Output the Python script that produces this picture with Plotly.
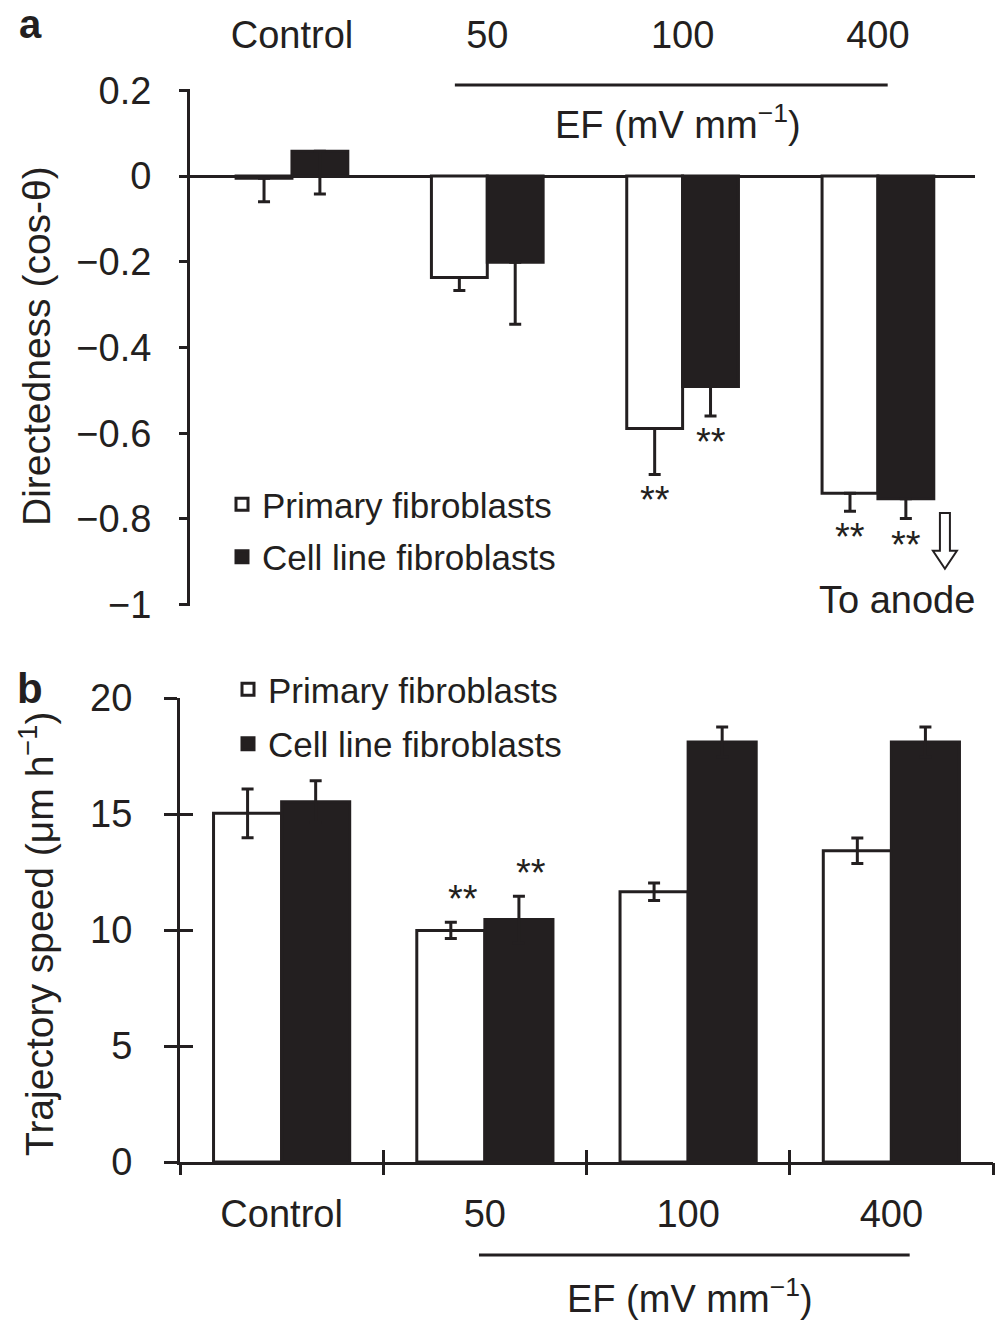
import plotly.graph_objects as go

# ---------------- data ----------------
categories = ["Control", "50", "100", "400"]

# Panel a: directedness (cos-theta)
dir_primary = [-0.005, -0.237, -0.589, -0.740]
dir_primary_err = [0.055, 0.030, 0.107, 0.042]
dir_cellline = [0.058, -0.201, -0.491, -0.753]
dir_cellline_err = [0.100, 0.145, 0.069, 0.046]
dir_primary_sig = ["", "", "**", "**"]
dir_cellline_sig = ["", "", "**", "**"]

# Panel b: trajectory speed (um/h)
speed_primary = [15.03, 9.98, 11.65, 13.42]
speed_primary_err = [1.05, 0.35, 0.38, 0.55]
speed_cellline = [15.53, 10.45, 18.10, 18.10]
speed_cellline_err = [0.90, 1.00, 0.65, 0.65]
speed_primary_sig = ["", "**", "", ""]
speed_cellline_sig = ["", "**", "", ""]

a_yticks = [0.2, 0, -0.2, -0.4, -0.6, -0.8, -1]
a_yticktext = ["0.2", "0", "−0.2", "−0.4", "−0.6", "−0.8", "−1"]
b_yticks = [0, 5, 10, 15, 20]
b_yticktext = ["0", "5", "10", "15", "20"]
series_names = ["Primary fibroblasts", "Cell line fibroblasts"]

# ---------------- style ----------------
W, H = 995, 1325
INK = "#231f20"
FONT = "Liberation Sans, Arial, Helvetica, sans-serif"
idx = list(range(len(categories)))
boundaries = [i - 0.5 for i in range(len(categories) + 1)]


def px(y):
    return 1 - y / H


def pxx(x):
    return x / W


BW_A = 0.286
BW_B = 0.335

fig = go.Figure()

# ---- panel a bars ----
fig.add_trace(go.Bar(
    x=idx, y=dir_primary, width=BW_A, offset=-BW_A, name=series_names[0],
    marker=dict(color="white", line=dict(color=INK, width=3)),
    error_y=dict(type="data", symmetric=False, array=[0] * 4, arrayminus=dir_primary_err,
                 color=INK, thickness=3, width=6),
    xaxis="x", yaxis="y", legend="legend", legendgroup="a1"))
fig.add_trace(go.Bar(
    x=idx, y=dir_cellline, width=BW_A, offset=0, name=series_names[1],
    marker=dict(color=INK, line=dict(color=INK, width=3)),
    error_y=dict(type="data", symmetric=False, array=[0] * 4, arrayminus=dir_cellline_err,
                 color=INK, thickness=3, width=6),
    xaxis="x", yaxis="y", legend="legend", legendgroup="a2"))

# ---- panel b bars ----
fig.add_trace(go.Bar(
    x=idx, y=speed_primary, width=BW_B, offset=-BW_B, name=series_names[0],
    marker=dict(color="white", line=dict(color=INK, width=3)),
    error_y=dict(type="data", array=speed_primary_err, color=INK, thickness=3, width=6),
    xaxis="x2", yaxis="y2", legend="legend2", legendgroup="b1"))
fig.add_trace(go.Bar(
    x=idx, y=speed_cellline, width=BW_B, offset=0, name=series_names[1],
    marker=dict(color=INK, line=dict(color=INK, width=3)),
    error_y=dict(type="data", array=speed_cellline_err, color=INK, thickness=3, width=6),
    xaxis="x2", yaxis="y2", legend="legend2", legendgroup="b2"))

# empty helper traces so that the overlay tick axes (crossing ticks) get drawn
for xa, ya in [("x3", "y2"), ("x4", "y2"), ("x2", "y3")]:
    fig.add_trace(go.Scatter(x=[None], y=[None], xaxis=xa, yaxis=ya, mode="markers",
                             showlegend=False, hoverinfo="skip"))

tickfont = dict(family=FONT, size=38, color=INK)

a_xrange = [-0.522, 3.497]
b_xrange = [-0.5, 3.5]

common = dict(automargin=False, showgrid=False)

fig.update_layout(
    template="none",
    width=W, height=H,
    margin=dict(l=0, r=0, t=0, b=0, autoexpand=False),
    paper_bgcolor="white", plot_bgcolor="rgba(0,0,0,0)",
    barmode="overlay",
    font=dict(family=FONT, color=INK),
    # panel a
    xaxis=dict(domain=[pxx(190), pxx(975)], anchor="y", range=a_xrange, side="top",
               tickvals=idx, ticktext=categories, ticks="", showline=False,
               zeroline=False, tickfont=tickfont, ticklabelstandoff=32, **common),
    yaxis=dict(domain=[px(606), px(89)], anchor="x", range=[-1.003, 0.203],
               tickvals=a_yticks, ticktext=a_yticktext, ticks="outside", ticklen=8,
               tickwidth=3, tickcolor=INK, showline=True, linewidth=3, linecolor=INK,
               zeroline=True, zerolinewidth=3, zerolinecolor=INK,
               tickfont=tickfont, ticklabelstandoff=20, **common),
    # panel b
    xaxis2=dict(domain=[pxx(180), pxx(993)], anchor="y2", range=b_xrange,
                tickvals=idx, ticktext=categories, ticks="", showline=True,
                linewidth=3, linecolor=INK, zeroline=False,
                tickfont=tickfont, ticklabelstandoff=16, **common),
    xaxis3=dict(overlaying="x2", anchor="y2", range=b_xrange, tickvals=boundaries,
                ticks="outside", ticklen=12, tickwidth=3, tickcolor=INK,
                showticklabels=False, showline=False, zeroline=False, **common),
    xaxis4=dict(overlaying="x2", anchor="y2", range=b_xrange, tickvals=boundaries,
                ticks="inside", ticklen=12, tickwidth=3, tickcolor=INK,
                showticklabels=False, showline=False, zeroline=False, **common),
    yaxis2=dict(domain=[px(1162), px(698)], anchor="x2", range=[0, 20],
                tickvals=b_yticks, ticktext=b_yticktext, ticks="outside", ticklen=13,
                tickwidth=3, tickcolor=INK, showline=True, linewidth=3, linecolor=INK,
                zeroline=False, tickfont=tickfont, ticklabelstandoff=24, **common),
    yaxis3=dict(overlaying="y2", anchor="x2", range=[0, 20], tickvals=b_yticks,
                ticks="inside", ticklen=13, tickwidth=3, tickcolor=INK,
                showticklabels=False, showline=False, zeroline=False, **common),
    legend=dict(x=pxx(222), y=px(475), xanchor="left", yanchor="top",
                bgcolor="rgba(0,0,0,0)", font=dict(family=FONT, size=35, color=INK),
                traceorder="grouped", tracegroupgap=4),
    legend2=dict(x=pxx(228), y=px(660), xanchor="left", yanchor="top",
                 bgcolor="rgba(0,0,0,0)", font=dict(family=FONT, size=35, color=INK),
                 traceorder="grouped", tracegroupgap=6),
)

ann = []
# significance stars, panel a (below error bars)
for vals, errs, sig, off in [(dir_primary, dir_primary_err, dir_primary_sig, -BW_A / 2),
                             (dir_cellline, dir_cellline_err, dir_cellline_sig, BW_A / 2)]:
    for i, (v, e, s) in enumerate(zip(vals, errs, sig)):
        if s:
            ann.append(dict(x=i + off, y=v - e, xref="x", yref="y", text=s,
                            showarrow=False, xanchor="center", yanchor="top", yshift=-3,
                            font=dict(family=FONT, size=38, color=INK)))
# significance stars, panel b (above error bars)
for vals, errs, sig, off in [(speed_primary, speed_primary_err, speed_primary_sig, -BW_B / 2),
                             (speed_cellline, speed_cellline_err, speed_cellline_sig, BW_B / 2)]:
    for i, (v, e, s) in enumerate(zip(vals, errs, sig)):
        if s:
            ann.append(dict(x=i + off, y=v + e, xref="x2", yref="y2", text=s,
                            showarrow=False, xanchor="center", yanchor="bottom", xshift=12,
                            font=dict(family=FONT, size=38, color=INK)))


def label(x, y, text, size, xref="paper", angle=0, yanchor="middle"):
    return dict(x=x, y=y, xref=xref, yref="paper", text=text, showarrow=False,
                xanchor="center", yanchor=yanchor, textangle=angle,
                font=dict(family=FONT, size=size, color=INK))


ann += [
    label(pxx(30), 1.0, "<b>a</b>", 40, yanchor="top"),
    label(pxx(30), px(688), "<b>b</b>", 42),
    label(pxx(36), px(346), "Directedness (cos-θ)", 39, angle=-90),
    label(pxx(36), px(934), "Trajectory speed (μm h<sup>−1</sup>)", 39, angle=-90),
    label(1.976, px(122), "EF (mV mm<sup>−1</sup>)", 38, xref="x"),
    label(2.01, px(1296), "EF (mV mm<sup>−1</sup>)", 38, xref="x2"),
    label(3.1, px(600), "To anode", 38, xref="x"),
]
fig.update_layout(annotations=ann)

# decorations: EF bracket lines and hollow arrow
ax_c = 3.343
sw, hw = 0.0256, 0.0614
y_top, y_neck, y_tip = -0.786, -0.874, -0.916
arrow_path = (f"M {ax_c - sw},{y_top} L {ax_c + sw},{y_top} L {ax_c + sw},{y_neck} "
              f"L {ax_c + hw},{y_neck} L {ax_c},{y_tip} L {ax_c - hw},{y_neck} "
              f"L {ax_c - sw},{y_neck} Z")
fig.update_layout(shapes=[
    dict(type="line", xref="x", yref="paper", x0=0.834, x1=3.05, y0=px(85), y1=px(85),
         line=dict(color=INK, width=3)),
    dict(type="line", xref="x2", yref="paper", x0=0.971, x1=3.09, y0=px(1255), y1=px(1255),
         line=dict(color=INK, width=3)),
    dict(type="path", xref="x", yref="y", path=arrow_path, fillcolor="white",
         line=dict(color=INK, width=2)),
])

fig.write_html("out.html")
